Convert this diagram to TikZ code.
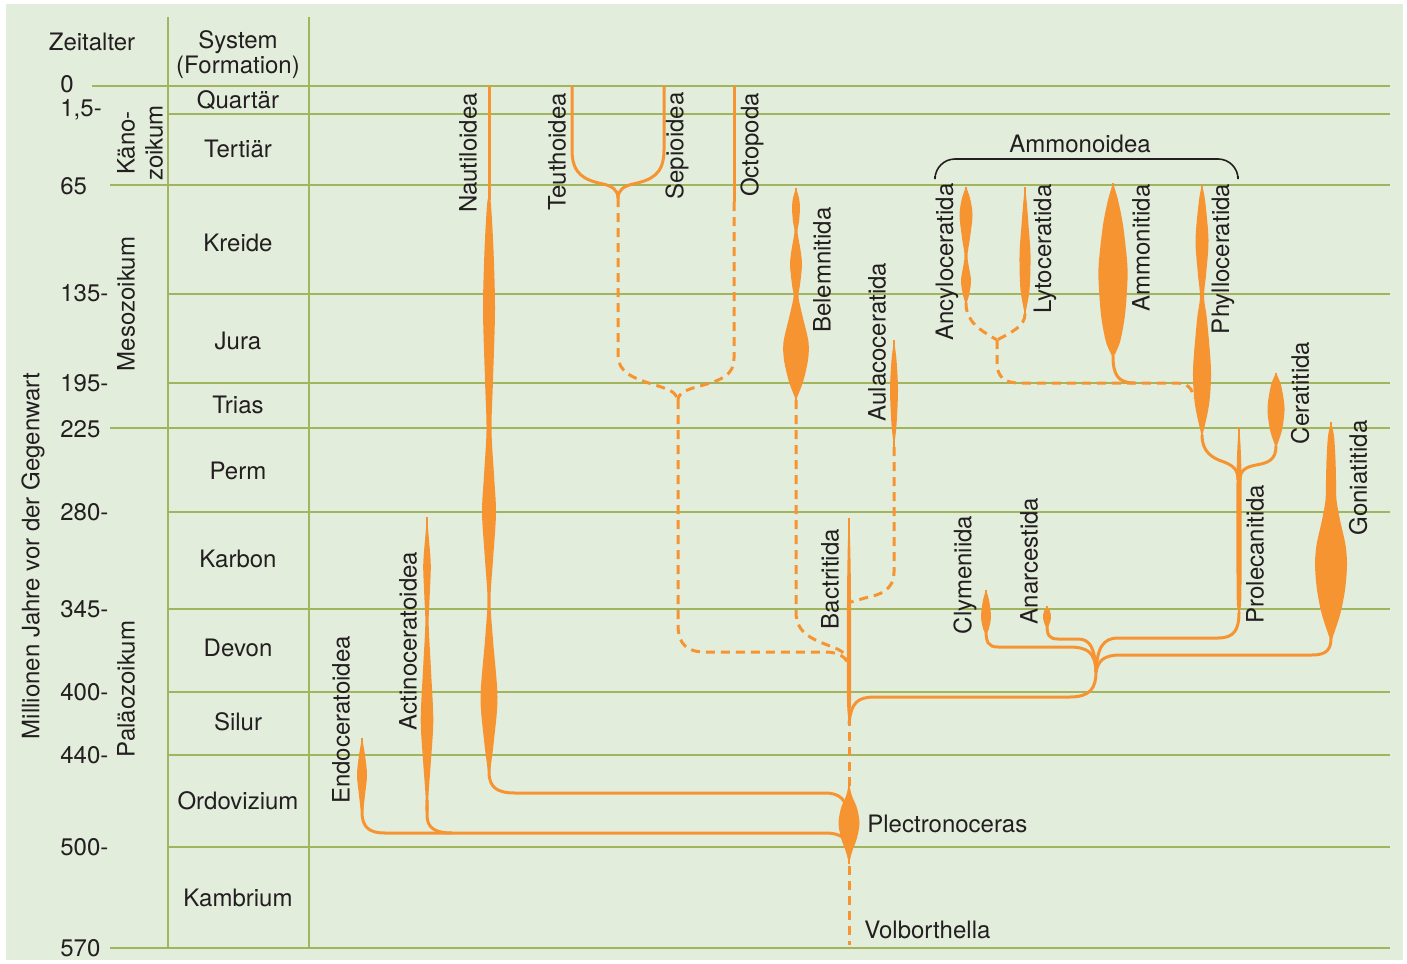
\documentclass[tikz,border=0pt]{standalone}
\usepackage{fontspec}
\setmainfont{TeX Gyre Heros}
\usepackage{tikz}
\usetikzlibrary{positioning}

\definecolor{chartbg}{RGB}{227,237,220}
\definecolor{gridgreen}{RGB}{163,180,95}
\definecolor{cephorange}{RGB}{247,148,50}
\definecolor{inkgray}{RGB}{35,31,32}

% spindle: x, top tip, bottom tip, right-hand profile (dx,y)
\newcommand{\lineage}[4]{%
  \foreach \side in {1,-1}
    \fill[cephorange, shift={(#1,0)}, xscale=\side]
      plot[smooth] coordinates {(0,#2) #4 (0,#3)} -- (-0.8,#3) -- (-0.8,#2) -- cycle;}

\begin{document}
\begin{tikzpicture}[
    x=0.5pt, y=-0.5pt,
    font=\fontsize{12}{12.5}\selectfont,
    gridline/.style={draw=gridgreen, line width=0.9pt},
    ceph line/.style={draw=cephorange, line width=1.5pt},
    ceph dash/.style={draw=cephorange, line width=1.5pt, dash pattern=on 4.5pt off 3pt},
    bracket/.style={draw=inkgray, line width=0.8pt},
    taxon/.style={rotate=90, text=inkgray, inner sep=0pt},
    period/.style={text=inkgray, inner sep=0pt},
    age/.style={anchor=west, text=inkgray, inner sep=0pt}
]
    \useasboundingbox (0,0) rectangle (1407,963);
    \fill[chartbg] (6,4) rectangle (1403,960);

    % Grid
    \foreach \y/\xs in {86/92, 114/168, 185/110, 294/168, 383/168, 428/110,
                        512/168, 609/168, 692/168, 755/168, 847/168, 948/110}
        \draw[gridline] (\xs,\y) -- (1390,\y);
    \draw[gridline] (168,17) -- (168,948);
    \draw[gridline] (309,17) -- (309,948);

    % Time scale
    \node[period] (zeitalter) at (92,42) {Zeitalter};
    \node[period, align=center] (system) at (238,55) {System\\(Formation)};
    \foreach \y/\t in {84/0, 110/{1,5-}, 186/65, 293/135-, 383/195-, 429/225,
                       512/280-, 609/345-, 692/400-, 755/440-, 847/500-, 948/570}
        \node[age] at (60,\y) {\t};
    \node[taxon, align=center, font=\fontsize{12}{14}\selectfont] (kaenozoikum) at (140,143) {Käno-\\zoikum};
    \node[taxon] (mesozoikum) at (126,304) {Mesozoikum};
    \node[taxon] (palaeozoikum) at (126,689) {Paläozoikum};
    \node[taxon] (axis) at (33,556) {Millionen Jahre vor der Gegenwart};
    \foreach \y/\t in {100/Quartär, 149/Tertiär, 243/Kreide, 341/Jura, 405/Trias, 471/Perm,
                       559/Karbon, 648/Devon, 722/Silur, 801/Ordovizium, 898/Kambrium}
        \node[period] at (238,\y) {\t};

    % Plectronoceras and Volborthella
    \draw[ceph dash] (849,866) -- (849,945);
    \draw[ceph dash] (849,786) -- (849,720);
    \lineage{849}{784}{864}{(3,796) (8,808) (10.5,823) (8,838) (3,852)}
    \node[anchor=west, text=inkgray, inner sep=0pt] (plectronoceras) at (867,824) {Plectronoceras};
    \node[anchor=west, text=inkgray, inner sep=0pt] (volborthella) at (864,930) {Volborthella};

    % Endoceratoidea, Actinoceratoidea
    \lineage{362}{738}{815}{(3,755) (5,775) (3,795) (1.5,808)}
    \draw[ceph line] (362,805) -- (362,812) .. controls (362,828) and (370,833) .. (385,833)
        -- (825,833) .. controls (840,833) and (846,838) .. (848,846);
    \lineage{427}{517}{815}{(2,540) (3.8,566) (2.5,600) (1.7,625) (4,670) (6.3,720) (4,760) (1.5,795) (1.5,810)}
    \draw[ceph line] (427,800) -- (427,815) .. controls (427,828) and (435,833) .. (452,833);
    \node[taxon] (endoceratoidea) at (341,720) {Endoceratoidea};
    \node[taxon] (actinoceratoidea) at (408,641) {Actinoceratoidea};

    % Nautiloidea
    \draw[ceph line] (489,86) -- (489,200);
    \lineage{489}{195}{775}{(2,205) (4.5,250) (6,310) (4,380) (2.5,430) (5,475) (7,513) (4,560)
        (1.5,600) (4,640) (8.5,697) (5,740) (1.5,768)}
    \draw[ceph line] (489,765) -- (489,772) .. controls (489,788) and (498,793) .. (515,793)
        -- (825,793) .. controls (840,793) and (846,800) .. (847,812);
    \node[taxon] (nautiloidea) at (468,153) {Nautiloidea};

    % Coleoidea
    \draw[ceph line] (572,86) -- (572,150) .. controls (572,175) and (585,180) .. (603,184)
        .. controls (612,186) and (618,190) .. (618,198);
    \draw[ceph line] (664,86) -- (664,150) .. controls (664,175) and (651,180) .. (633,184)
        .. controls (624,186) and (618,190) .. (618,198);
    \draw[ceph dash] (618,198) -- (618,355) .. controls (618,372) and (632,378) .. (655,385)
        .. controls (668,389) and (677,392) .. (677,400);
    \draw[ceph line] (734,86) -- (734,202);
    \draw[ceph dash] (734,202) -- (734,358) .. controls (734,375) and (722,380) .. (700,386)
        .. controls (688,389) and (678,393) .. (678,400);
    \draw[ceph dash] (678,400) -- (678,625) .. controls (678,645) and (688,652) .. (705,652)
        -- (825,652) .. controls (840,652) and (848,658) .. (849,668);
    \node[taxon] (teuthoidea) at (557,152) {Teuthoidea};
    \node[taxon] (sepioidea) at (677,146) {Sepioidea};
    \node[taxon] (octopoda) at (752,145) {Octopoda};

    % Belemnitida, Aulacoceratida, Bactritida
    \lineage{796}{188}{400}{(3,198) (4,208) (3,222) (1.5,232) (4.5,250) (6,265) (4,285) (2.5,297)
        (7,318) (12.5,342) (12,360) (7,382)}
    \draw[ceph dash] (796,400) -- (796,612) .. controls (796,635) and (815,640) .. (835,648)
        .. controls (845,652) and (849,658) .. (849,664);
    \lineage{894}{340}{447}{(2.5,360) (4,390) (2.5,425)}
    \draw[ceph dash] (894,447) -- (894,572) .. controls (894,590) and (880,595) .. (865,598) -- (851,602);
    \lineage{849}{518}{722}{(1.2,545) (2,600) (2,700)}
    \node[taxon] (belemnitida) at (822,270) {Belemnitida};
    \node[taxon] (aulacoceratida) at (877,342) {Aulacoceratida};
    \node[taxon] (bactritida) at (830,579) {Bactritida};

    % Ammonoidea, Palaeozoic stem
    \coordinate (junction) at (1096,672);
    \draw[ceph line] (849,724) .. controls (851,702) and (858,697) .. (875,697)
        -- (1070,697) .. controls (1090,697) and (1096,688) .. (junction);
    \draw[ceph line] (junction) .. controls (1095,652) and (1088,647) .. (1068,647)
        -- (998,647) .. controls (988,647) and (986,642) .. (986,630);
    \draw[ceph line] (junction) .. controls (1095,648) and (1090,639) .. (1078,639)
        -- (1058,639) .. controls (1049,639) and (1047,635) .. (1047,625);
    \draw[ceph line] (junction) .. controls (1097,648) and (1103,638) .. (1118,638)
        -- (1218,638) .. controls (1234,638) and (1239,630) .. (1239,612);
    \draw[ceph line] (junction) .. controls (1098,660) and (1105,655) .. (1120,655)
        -- (1312,655) .. controls (1326,655) and (1331,650) .. (1331,638);
    \lineage{986}{590}{634}{(3,600) (5,617) (2.5,630)}
    \lineage{1047}{606}{628}{(3,611) (4,618) (2,625)}
    \lineage{1239}{428}{615}{(1.5,445) (2.5,480) (2.5,580) (2,605)}
    \lineage{1331}{422}{642}{(3,436) (4.5,460) (5,480) (5.5,500) (9,520) (14.5,545) (16,565) (14,590) (9,615)}
    \node[taxon] (clymeniida) at (965,575) {Clymeniida};
    \node[taxon] (anarcestida) at (1029,561) {Anarcestida};
    \node[taxon] (prolecanitida) at (1255,554) {Prolecanitida};
    \node[taxon] (goniatitida) at (1358,478) {Goniatitida};

    % Ceratitida, Phylloceratida
    \lineage{1276}{373}{448}{(5,385) (8.5,408) (6,430)}
    \draw[ceph line] (1276,446) .. controls (1276,460) and (1268,463) .. (1256,465)
        .. controls (1246,467) and (1240,470) .. (1240,480);
    \lineage{1202}{185}{437}{(3,200) (6.5,240) (4,275) (2,297) (5,320) (9,370) (7,405)}
    \draw[ceph line] (1202,435) .. controls (1202,452) and (1212,458) .. (1224,462)
        .. controls (1234,466) and (1238,470) .. (1238,480);
    \node[taxon] (ceratitida) at (1300,393) {Ceratitida};
    \node[taxon] (phylloceratida) at (1223,259) {Phylloceratida};

    % Ancyloceratida, Lytoceratida, Ammonitida
    \lineage{966}{187}{305}{(4,198) (6.5,215) (4,238) (1.5,257) (5,280) (3,295)}
    \lineage{1025}{187}{315}{(1.5,200) (3.5,225) (5.5,255) (4.5,290)}
    \lineage{1113}{183}{358}{(5,200) (10,225) (14,260) (14.5,280) (12,315) (7,342)}
    \draw[ceph dash] (966,303) .. controls (966,322) and (980,330) .. (997,340);
    \draw[ceph dash] (1025,314) .. controls (1025,326) and (1012,332) .. (997,340);
    \draw[ceph dash] (997,340) -- (997,362) .. controls (997,377) and (1004,383) .. (1020,383)
        -- (1175,383) .. controls (1188,383) and (1192,388) .. (1194,398);
    \draw[ceph line] (1113,356) .. controls (1113,375) and (1118,383) .. (1135,383);
    \node[taxon] (ancyloceratida) at (947,262) {Ancyloceratida};
    \node[taxon] (lytoceratida) at (1045,249) {Lytoceratida};
    \node[taxon] (ammonitida) at (1141,248) {Ammonitida};

    % Ammonoidea bracket
    \draw[bracket, rounded corners=10pt] (935,176) -- (935,159) -- (1238,159) -- (1238,176);
    \node[period] (ammonoidea) at (1080,144) {Ammonoidea};
\end{tikzpicture}
\end{document}
